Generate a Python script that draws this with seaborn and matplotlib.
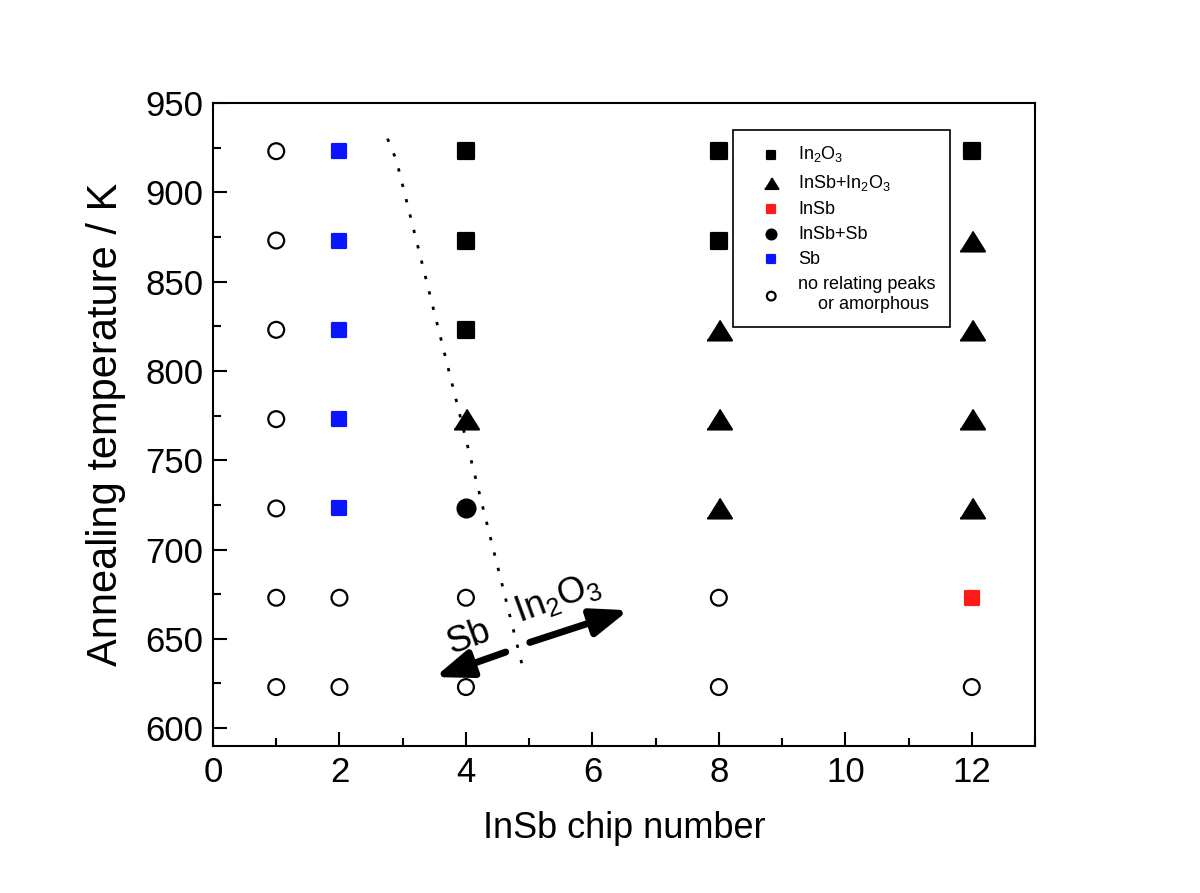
import pandas as pd
import numpy as np
import matplotlib.pyplot as plt
import seaborn as sns
from matplotlib.ticker import MultipleLocator

sns.set_style('white')
plt.rcParams['font.family'] = ['Liberation Sans', 'DejaVu Sans']
plt.rcParams['mathtext.fontset'] = 'custom'
plt.rcParams['mathtext.rm'] = 'Liberation Sans'
plt.rcParams['mathtext.it'] = 'Liberation Sans:italic'
plt.rcParams['mathtext.default'] = 'rm'
for key in ['text.color', 'axes.labelcolor', 'xtick.color', 'ytick.color']:
    plt.rcParams[key] = 'black'

# phase observed for each chip number / annealing temperature
in2o3_chip = [4, 4, 4, 8, 8, 12]
in2o3_temp = [823, 873, 923, 873, 923, 923]
mixed_chip = [4, 8, 8, 8, 12, 12, 12, 12]
mixed_temp = [773, 723, 773, 823, 723, 773, 823, 873]
insb_chip = [12]
insb_temp = [673]
insb_sb_chip = [4]
insb_sb_temp = [723]
sb_chip = [2, 2, 2, 2, 2]
sb_temp = [723, 773, 823, 873, 923]
none_chip = [1, 1, 1, 1, 1, 1, 1, 2, 2, 4, 4, 8, 8, 12]
none_temp = [623, 673, 723, 773, 823, 873, 923, 623, 673, 623, 673, 623, 673, 623]

# boundary line between Sb and In2O3 regions
boundary_x = [2.76, 2.90, 4.92]
boundary_y = [930, 918, 631]

tri = [(-1, -0.8), (1, -0.8), (0, 0.8)]
series = [
    ('In$_2$O$_3$', in2o3_chip, in2o3_temp, 's', 'black', 'black', 122),
    ('InSb+In$_2$O$_3$', mixed_chip, mixed_temp, tri, 'black', 'black', 320),
    ('InSb', insb_chip, insb_temp, 's', '#ff1a1a', '#ff1a1a', 105),
    ('InSb+Sb', insb_sb_chip, insb_sb_temp, 'o', 'black', 'black', 165),
    ('Sb', sb_chip, sb_temp, 's', '#0a14ff', '#0a14ff', 105),
    ('no relating peaks\n    or amorphous', none_chip, none_temp, 'o', 'none', 'black', 130),
]

fig = plt.figure(figsize=(12, 8.93), dpi=100)
ax = fig.add_axes([0.1775, 0.1646, 0.685, 0.7201])

for label, xs, ys, mk, fc, ec, size in series:
    df = pd.DataFrame({'chip': xs, 'temp': ys})
    sns.scatterplot(data=df, x='chip', y='temp', marker=mk, s=size,
                    facecolors=fc, edgecolors=ec, linewidths=1.6,
                    label=label, legend=False, ax=ax, zorder=3)

ax.plot(boundary_x, boundary_y, color='black', lw=2, linestyle=(0, (1.2, 4.5)))

arrow = dict(arrowstyle='-|>,head_length=1.0,head_width=0.38',
             lw=5, color='black', shrinkA=0, shrinkB=0, mutation_scale=22)
ax.annotate('', xy=(3.51, 628.6), xytext=(4.63, 642.6), arrowprops=arrow)
ax.annotate('', xy=(6.57, 666), xytext=(5.01, 648), arrowprops=arrow)
ax.text(4.05, 650.5, 'Sb', fontsize=26, rotation=20, ha='center', va='center')
ax.text(5.45, 673, 'In$_2$O$_3$', fontsize=26, rotation=20, ha='center', va='center')

ax.set_xlim(0, 13)
ax.set_ylim(590, 950)
ax.xaxis.set_major_locator(MultipleLocator(2))
ax.xaxis.set_minor_locator(MultipleLocator(1))
ax.yaxis.set_major_locator(MultipleLocator(50))
ax.yaxis.set_minor_locator(MultipleLocator(25))
ax.tick_params(which='both', direction='in', top=False, right=False,
               bottom=True, left=True, width=1.5, labelsize=25, pad=7)
ax.tick_params(which='major', length=10)
ax.tick_params(which='minor', length=6)
for sp in ax.spines.values():
    sp.set_linewidth(1.5)
    sp.set_color('black')

ax.set_xlabel('InSb chip number', fontsize=26, labelpad=16)
ax.set_ylabel('Annealing temperature / K', fontsize=30, labelpad=14)

leg = ax.legend(loc='upper left', bbox_to_anchor=(0.633, 0.958), fontsize=13,
                markerscale=0.55, frameon=True, fancybox=False, framealpha=1,
                edgecolor='black', borderpad=0.8, labelspacing=0.45,
                handlelength=2.6, handletextpad=0.2, borderaxespad=0)
leg.get_frame().set_linewidth(1.2)

plt.savefig('out.png', dpi=100)
